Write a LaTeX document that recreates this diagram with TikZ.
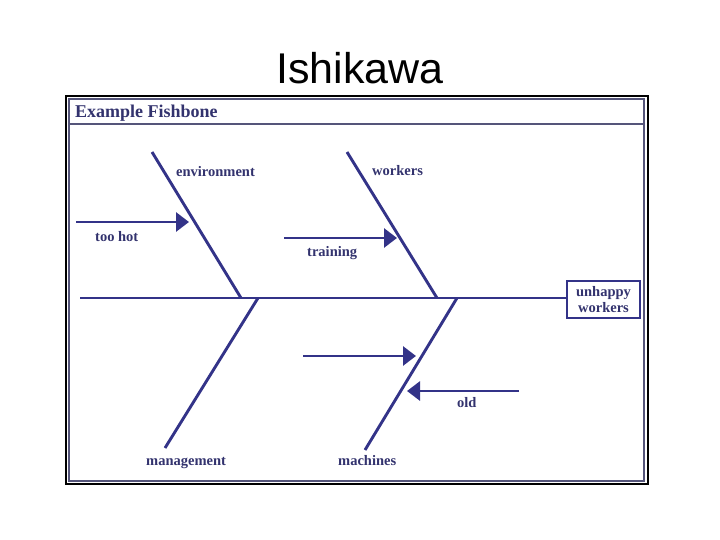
\documentclass[tikz,border=0pt]{standalone}
\usepackage{fontspec}
\setmainfont{Liberation Serif}
\newfontfamily\titlefont{Liberation Sans}
\usetikzlibrary{arrows.meta}
\definecolor{bone}{HTML}{333388}
\definecolor{txt}{HTML}{33336E}
\definecolor{frameinner}{HTML}{55557A}
\begin{document}
\begin{tikzpicture}[x=1pt,y=-1pt,
  bonestyle/.style={draw=bone,line width=2.9pt},
  subarrow/.style={draw=bone,line width=2.9pt,-{Triangle[length=13pt,width=19pt]}},
  lbl/.style={text=txt,font=\fontsize{14.5}{16}\selectfont\bfseries,inner sep=0pt},
]
\useasboundingbox (0,0) rectangle (720,540);
\node (title) at (360,68) {\titlefont\fontsize{43}{48}\selectfont Ishikawa};
% frames
\draw[black,line width=1.2pt] (66,96) rectangle (648,484);
\draw[frameinner,line width=1.2pt] (69,99) rectangle (644,481);
\draw[frameinner,line width=1.2pt] (69,124) -- (644,124);
\node[text=txt,font=\fontsize{18}{20}\selectfont\bfseries,anchor=west,inner sep=0pt] (hdr) at (75,113.5) {Example Fishbone};
% effect box
\node[draw=bone,line width=1.8pt,text=txt,font=\fontsize{14.5}{15.5}\selectfont\bfseries,align=center,minimum width=73pt,minimum height=37pt,inner sep=1pt] (effect) at (603.5,299.5) {unhappy\\workers};
% spine
\coordinate (spL) at (80,298);
\draw[bonestyle] (spL) -- (effect.west |- spL);
% bones
\coordinate (envT) at (152,152); \coordinate (envB) at (241,298);
\coordinate (wrkT) at (347,152); \coordinate (wrkB) at (437,298);
\coordinate (mgtT) at (258,298); \coordinate (mgtB) at (165,448);
\coordinate (macT) at (457,298); \coordinate (macB) at (365,450);
\draw[bonestyle] (envT) -- (envB);
\draw[bonestyle] (wrkT) -- (wrkB);
\draw[bonestyle] (mgtT) -- (mgtB);
\draw[bonestyle] (macT) -- (macB);
% labels
\node[lbl,anchor=west] (lenv) at (176,172) {environment};
\node[lbl,anchor=west] (lwrk) at (372,171) {workers};
\node[lbl,anchor=west] (lmgt) at (146,463) {management};
\node[lbl,anchor=west] (lmac) at (338,461) {machines};
% sub causes
\coordinate (hotS) at (76,222); \coordinate (hotE) at (189,222);
\draw[subarrow] (hotS) -- (hotE);
\node[lbl,anchor=west] (lhot) at (95,237) {too hot};
\coordinate (trnS) at (284,238); \coordinate (trnE) at (397,238);
\draw[subarrow] (trnS) -- (trnE);
\node[lbl,anchor=west] (ltrn) at (307,253) {training};
\coordinate (unS) at (303,356); \coordinate (unE) at (416,356);
\draw[subarrow] (unS) -- (unE);
\coordinate (oldS) at (519,391); \coordinate (oldE) at (407,391);
\draw[subarrow] (oldS) -- (oldE);
\node[lbl,anchor=west] (lold) at (457,403) {old};
\end{tikzpicture}
\end{document}
